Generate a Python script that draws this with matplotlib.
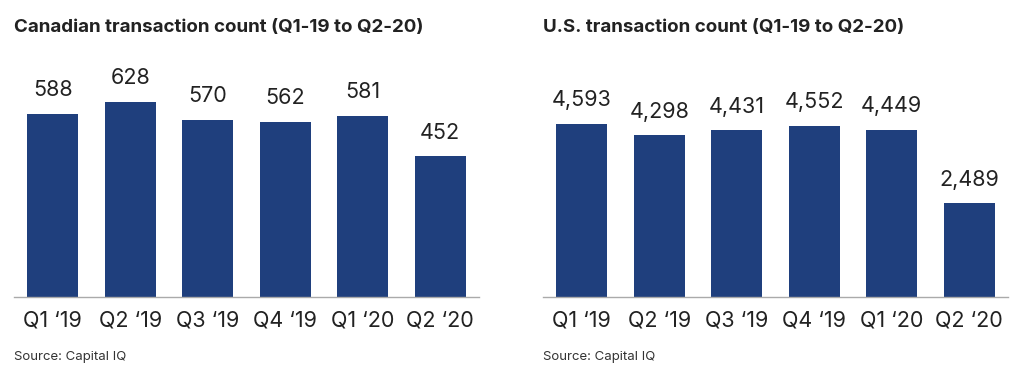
import matplotlib.pyplot as plt
import numpy as np

quarters = ['Q1 \u201819', 'Q2 \u201819', 'Q3 \u201819', 'Q4 \u201819', 'Q1 \u201820', 'Q2 \u201820']
canada = [588, 628, 570, 562, 581, 452]
us = [4593, 4298, 4431, 4552, 4449, 2489]

BAR = '#1f3f7d'
W, H = 1024, 381


def panel(fig, left_px, vals, ymax, title, fmt):
    # axes box in pixel coords: baseline at y=297, top at y=80
    ax = fig.add_axes([left_px / W, (H - 297) / H, 465 / W, 217 / H])
    x = np.arange(len(vals))
    ax.bar(x, vals, width=0.66, color=BAR)
    ax.set_xlim(-0.5, 5.5)
    ax.set_ylim(0, ymax)
    for xi, v in zip(x, vals):
        ax.annotate(fmt(v), (xi, v), xytext=(0, 10), textcoords='offset points',
                    ha='center', va='bottom', fontsize=15.5, color='#222222')
    ax.set_xticks(x)
    ax.set_xticklabels(quarters, fontsize=15.5, color='#222222')
    ax.tick_params(axis='x', length=0, pad=10)
    ax.set_yticks([])
    for s in ['top', 'right', 'left']:
        ax.spines[s].set_visible(False)
    ax.spines['bottom'].set_color('#aaaaaa')
    ax.spines['bottom'].set_linewidth(1)
    fig.text(left_px / W, 1 - 28 / H, title, fontsize=13.5, fontweight='bold',
             va='center', ha='left', color='#222222')
    fig.text(left_px / W, 1 - 357 / H, 'Source: Capital IQ', fontsize=9.5,
             va='center', ha='left', color='#333333')
    return ax


def main():
    plt.rcParams['font.family'] = ['Inter', 'DejaVu Sans']
    fig = plt.figure(figsize=(W / 100, H / 100), dpi=100)
    panel(fig, 14, canada, 217 / 0.311, 'Canadian transaction count (Q1-19 to Q2-20)',
          lambda v: f'{v}')
    panel(fig, 543, us, 217 / 0.0376, 'U.S. transaction count (Q1-19 to Q2-20)',
          lambda v: f'{v:,}')
    fig.savefig('out.png', dpi=100)


if __name__ == '__main__':
    main()
